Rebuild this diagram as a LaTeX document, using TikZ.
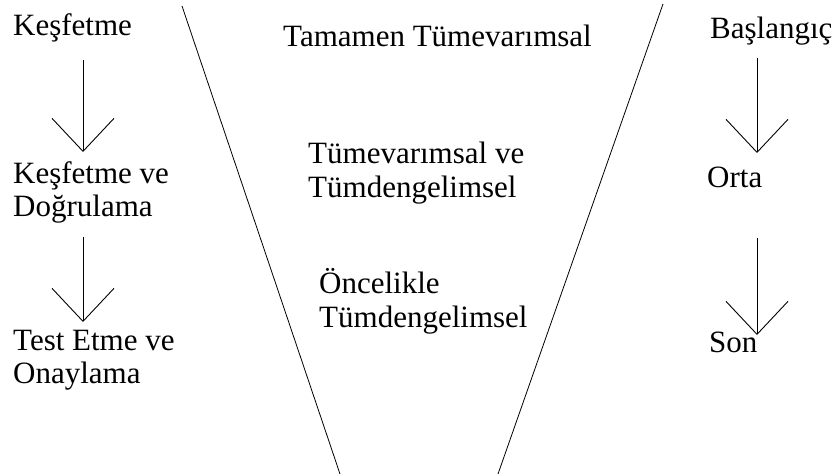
\documentclass[tikz,border=0pt]{standalone}
\usepackage{fontspec}
\setmainfont{Liberation Serif}
\newfontfamily\tnr{Liberation Serif}
\usetikzlibrary{arrows.meta,calc}
\begin{document}
\begin{tikzpicture}[x=1pt,y=-1pt,
  lbl/.style={inner sep=0pt,anchor=base west,align=left,font=\tnr\fontsize{31}{33}\selectfont},
  clbl/.style={lbl,font=\tnr\fontsize{31}{34}\selectfont},
  arr/.style={line width=0.9pt,-{Straight Barb[length=33pt,width=62pt,line width=0.9pt]}},
  edge line/.style={line width=0.8pt}]
\useasboundingbox (0,0) rectangle (839,474);
% left column
\node[lbl] (k1) at (13,35) {Keşfetme};
\node[lbl] (k2) at (13,216) {Keşfetme ve\\Doğrulama};
\node[lbl] (k3) at (13,383) {Test Etme ve\\Onaylama};
% centre
\node[clbl] (c1) at (283,46) {Tamamen Tümevarımsal};
\node[clbl] (c2) at (308,197) {Tümevarımsal ve\\Tümdengelimsel};
\node[clbl] (c3) at (319,327) {Öncelikle\\Tümdengelimsel};
% right column
\node[lbl] (r1) at (710,38) {Başlangıç};
\node[lbl] (r2) at (707,187) {Orta};
\node[lbl] (r3) at (709,352) {Son};
% funnel
\coordinate (fl1) at (182,6);
\coordinate (fl2) at (340,474);
\coordinate (fr1) at (663,4);
\coordinate (fr2) at (498,474);
\draw[edge line] (fl1) -- (fl2);
\draw[edge line] (fr1) -- (fr2);
% arrows
\draw[arr] ([shift={(70,25)}]k1.base west) -- ([shift={(70,-64)}]k2.base west);
\draw[arr] ([shift={(70,21)}]k2.base west) -- ([shift={(70,-61)}]k3.base west);
\draw[arr] ([shift={(47,20)}]r1.base west) -- ([shift={(50,-34)}]r2.base west);
\draw[arr] ([shift={(50,51)}]r2.base west) -- ([shift={(48,-17)}]r3.base west);
\end{tikzpicture}
\end{document}
